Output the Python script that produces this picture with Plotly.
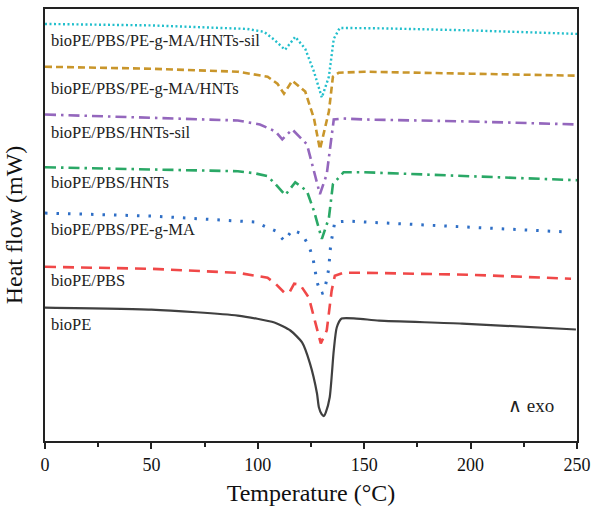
import plotly.graph_objects as go

FONT = "Liberation Serif"

# ---- data (temperature in °C, heat flow in arbitrary mW offset units) ----
t_bioPE = [0, 50, 90.6, 107.8, 115.3, 120.8, 124.5, 127.8, 128.7, 130, 131, 132, 133.8, 135.7, 137.1, 139.4, 146.4, 157, 196, 249.5]
hf_bioPE = [134, 132, 126, 119, 111, 99, 78, 48, 34, 27, 25, 29, 44, 91, 114, 123, 123, 121, 118, 112]

t_pbs = [0, 50, 90.6, 104.6, 108.3, 112.5, 114.8, 117.1, 119.9, 124, 126.8, 129.6, 132.4, 134.7, 136.2, 140.3, 150, 200, 247.2]
hf_pbs = [175, 173, 169, 164, 158, 149, 149, 158, 157, 144, 121, 98, 111, 151, 166, 169, 169, 167, 163]

t_pbs_ma = [0, 50, 90.6, 98.5, 108.3, 112.5, 116.2, 120.8, 124, 125.9, 126.8, 127.8, 129.6, 131, 132.4, 133.4, 133.8, 134.3, 136.2, 142.7, 150, 200, 245.4]
hf_pbs_ma = [229, 226, 221, 220, 211, 201, 212, 208, 196, 184, 173, 160, 148, 149, 162, 174, 186, 198, 220, 221, 220, 215, 210]

t_pbs_hnt = [0, 50, 90.6, 98.5, 104.6, 108.3, 112.9, 117.6, 123.1, 126.4, 130.1, 133.4, 135.3, 140.3, 150, 200, 250]
hf_pbs_hnt = [275, 273, 271, 269, 266, 258, 247, 260, 251, 231, 203, 224, 258, 270, 270, 266, 262]

t_pbs_hnts_sil = [0, 50, 90.6, 101, 108.3, 111.5, 116.2, 123.1, 126.8, 129.2, 132.4, 133.8, 135.7, 140, 150, 200, 250]
hf_pbs_hnts_sil = [328, 325, 322, 318, 311, 303, 313, 298, 268, 248, 268, 291, 323, 324, 323, 321, 318]

t_pbs_ma_hnt = [0, 50, 90.6, 104.6, 109.2, 112.3, 116.2, 122.3, 126.4, 129.2, 133.4, 135.3, 138, 150, 200, 250]
hf_pbs_ma_hnt = [376, 374, 371, 366, 359, 349, 362, 351, 324, 293, 331, 366, 370, 371, 369, 367]

t_pbs_ma_hnts_sil = [0, 50, 95, 103, 107.8, 112.8, 117.6, 122.3, 126.4, 130.1, 133.4, 135.7, 138.5, 160, 200, 250]
hf_pbs_ma_hnts_sil = [419, 417.5, 414, 411, 403, 393, 406, 394, 371, 345, 366, 404, 415, 414.5, 412.5, 409]

labels = ["bioPE", "bioPE/PBS", "bioPE/PBS/PE-g-MA", "bioPE/PBS/HNTs",
          "bioPE/PBS/HNTs-sil", "bioPE/PBS/PE-g-MA/HNTs", "bioPE/PBS/PE-g-MA/HNTs-sil"]
label_y = [117, 161, 212, 260, 310, 354, 402]
x_ticks = [0, 50, 100, 150, 200, 250]

series = [
    (t_bioPE, hf_bioPE, "#404040", "solid", 2.2, "spline"),
    (t_pbs, hf_pbs, "#f04848", "11px,7px", 2.6, "linear"),
    (t_pbs_ma, hf_pbs_ma, "#2f6fc6", "2.5px,9px", 3, "linear"),
    (t_pbs_hnt, hf_pbs_hnt, "#2aa866", "11px,5px,2.5px,5px", 2.6, "linear"),
    (t_pbs_hnts_sil, hf_pbs_hnts_sil, "#9467bd", "11px,5px,2.5px,5px", 2.6, "linear"),
    (t_pbs_ma_hnt, hf_pbs_ma_hnt, "#c9962b", "7px,4px", 2.6, "linear"),
    (t_pbs_ma_hnts_sil, hf_pbs_ma_hnts_sil, "#22bfcc", "2px,2.5px", 2.4, "linear"),
]

fig = go.Figure()
for (t, hf, color, dash, w, shape), name in zip(series, labels):
    fig.add_trace(go.Scatter(
        x=t, y=hf, mode="lines", name=name,
        line=dict(color=color, dash=dash, width=w, shape=shape, smoothing=0.6),
        showlegend=False,
    ))

for name, y in zip(labels, label_y):
    fig.add_annotation(x=2, y=y, xref="x", yref="y", text=name, showarrow=False,
                       xanchor="left", yanchor="middle",
                       font=dict(family=FONT, size=16.5, color="#222"))

fig.add_annotation(x=228.5, y=36, xref="x", yref="y", text="∧ exo", showarrow=False,
                   xanchor="center", yanchor="middle",
                   font=dict(family=FONT, size=19, color="#222"))

fig.update_layout(
    width=598, height=517,
    margin=dict(l=45, r=15, t=7, b=76),
    paper_bgcolor="white", plot_bgcolor="white",
    font=dict(family=FONT, color="#111"),
    xaxis=dict(
        range=[0, 250], tickvals=x_ticks, ticktext=[str(v) for v in x_ticks],
        showline=True, linecolor="#222", linewidth=2, mirror=True,
        ticks="outside", ticklen=6, tickwidth=2, tickcolor="#222",
        minor=dict(ticks="outside", dtick=25, tick0=0, ticklen=4, tickwidth=2, tickcolor="#222"),
        tickfont=dict(family=FONT, size=18, color="#111"),
        showgrid=False, zeroline=False,
        title=dict(text="Temperature (°C)", font=dict(family=FONT, size=24, color="#111"), standoff=11),
    ),
    yaxis=dict(
        range=[0, 434], showline=True, linecolor="#222", linewidth=2, mirror=True,
        ticks="", showticklabels=False, showgrid=False, zeroline=False,
        title=dict(text="Heat flow (mW)", font=dict(family=FONT, size=24, color="#111"), standoff=14),
    ),
)

fig.write_html("out.html")
